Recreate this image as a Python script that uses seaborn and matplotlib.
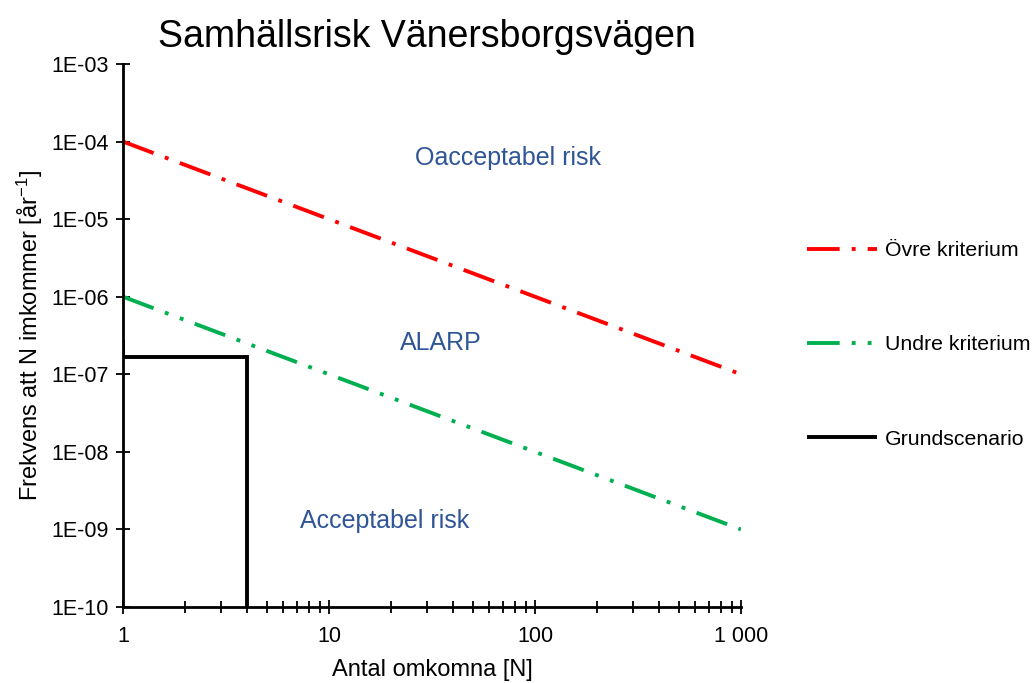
import numpy as np
import pandas as pd
import matplotlib
matplotlib.use("Agg")
import matplotlib.pyplot as plt
import seaborn as sns
from matplotlib.ticker import FixedLocator, LogLocator, NullFormatter, NullLocator

# ---- data ----
crit_N = [1, 1000]
upper_F = [1e-4, 1e-7]
lower_F = [1e-6, 1e-9]
base_N = [1, 1, 4, 4]
base_F = [2.75e-7, 1.66e-7, 1.66e-7, 1e-11]
x_ticks = [1, 10, 100, 1000]
x_labels = ["1", "10", "100", "1 000"]
y_ticks = [1e-10, 1e-9, 1e-8, 1e-7, 1e-6, 1e-5, 1e-4, 1e-3]
y_labels = ["1E-10", "1E-09", "1E-08", "1E-07", "1E-06", "1E-05", "1E-04", "1E-03"]
region_text = ["Oacceptabel risk", "ALARP", "Acceptabel risk"]
region_x = [74, 35, 18.7]
region_y = [10**-4.21, 10**-6.6, 10**-8.89]

sns.set_theme(style="white")
plt.rcParams["font.family"] = ["Liberation Sans", "DejaVu Sans"]
plt.rcParams["mathtext.fontset"] = "custom"
plt.rcParams["mathtext.rm"] = "Liberation Sans"
plt.rcParams["mathtext.it"] = "Liberation Sans:italic"
plt.rcParams["text.color"] = "black"
plt.rcParams["axes.labelcolor"] = "black"

fig = plt.figure(figsize=(10.32, 6.83), dpi=100)
ax = fig.add_axes([123/1032, 1-607/683, (741-123)/1032, (607-64)/683])

df_u = pd.DataFrame({"N": crit_N, "F": upper_F})
df_l = pd.DataFrame({"N": crit_N, "F": lower_F})
df_b = pd.DataFrame({"N": base_N, "F": base_F})

ax.set_xscale("log")
ax.set_yscale("log")

sns.lineplot(data=df_u, x="N", y="F", ax=ax, color="#FF0000", lw=2.8,
             label="Övre kriterium", sort=False, estimator=None)
sns.lineplot(data=df_l, x="N", y="F", ax=ax, color="#00B050", lw=2.8,
             label="Undre kriterium", sort=False, estimator=None)
sns.lineplot(data=df_b, x="N", y="F", ax=ax, color="black", lw=2.8,
             label="Grundscenario", sort=False, estimator=None)
ax.lines[0].set_dashes([8.4, 3.1, 1.0, 3.1])
ax.lines[1].set_dashes([8.4, 3.1, 1.0, 3.1, 1.0, 3.1])
ax.lines[2].set_solid_capstyle("butt")
ax.lines[2].set_solid_joinstyle("miter")

ax.set_xlim(1, 1000)
ax.set_ylim(1e-10, 1e-3)

ax.xaxis.set_major_locator(FixedLocator(x_ticks))
ax.set_xticklabels(x_labels)
ax.xaxis.set_minor_locator(LogLocator(base=10, subs=np.arange(2, 10)))
ax.xaxis.set_minor_formatter(NullFormatter())
ax.yaxis.set_major_locator(FixedLocator(y_ticks))
ax.set_yticklabels(y_labels)
ax.yaxis.set_minor_locator(NullLocator())

ax.tick_params(axis="both", which="major", direction="inout", length=10, width=1.3,
               labelsize=15.5, colors="black", pad=5, left=True, bottom=True)
ax.tick_params(axis="x", which="minor", direction="inout", length=8, width=1.3,
               bottom=True, colors="black")
ax.tick_params(axis="x", which="major", pad=9)

for s in ["top", "right"]:
    ax.spines[s].set_visible(False)
for s in ["left", "bottom"]:
    ax.spines[s].set_color("black")
    ax.spines[s].set_linewidth(2)

ax.set_xlabel("Antal omkomna [N]", fontsize=17, labelpad=8)
ax.set_ylabel(r"Frekvens att N imkommer [år$^{-1}$]", fontsize=17, labelpad=5)
ax.set_title("Samhällsrisk Vänersborgsvägen", fontsize=27, pad=12, x=0.492)

for t, x, y in zip(region_text, region_x, region_y):
    ax.text(x, y, t, ha="center", va="center", fontsize=18, color="#2F5597")

leg = ax.legend(loc="upper left", bbox_to_anchor=(788/1032, 1-222/683),
                bbox_transform=fig.transFigure, frameon=False, fontsize=15.3,
                handlelength=3.3, labelspacing=3.54, handletextpad=0.35)

fig.savefig("out.png", dpi=100)
